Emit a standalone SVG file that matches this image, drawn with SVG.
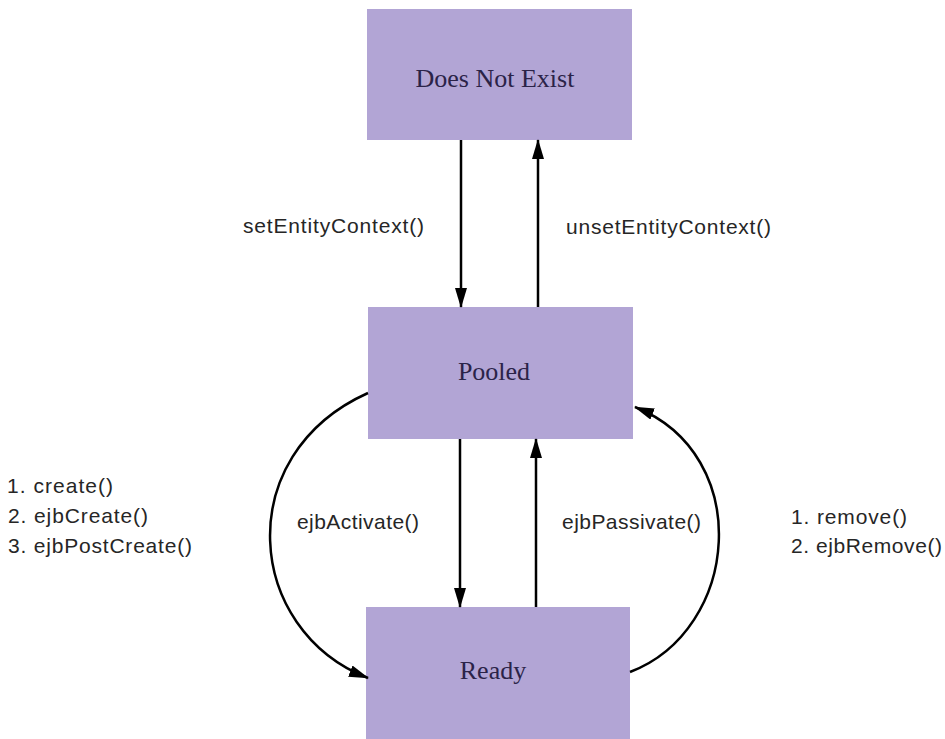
<svg xmlns="http://www.w3.org/2000/svg" width="945" height="739" viewBox="0 0 945 739">
  <defs>
    <marker id="arrow" markerUnits="userSpaceOnUse" markerWidth="20" markerHeight="12" refX="19" refY="6" orient="auto">
      <path d="M0,0 L20,6 L0,12 z" fill="#000"/>
    </marker>
    <style>
      .box { fill: #b2a5d5; }
      .state { font-family: "Liberation Serif", "Times New Roman", serif; font-size: 26px; fill: #2b2348; text-anchor: middle; }
      .lbl { font-family: "Liberation Sans", Arial, sans-serif; font-size: 21px; fill: #262626; }
      .edge { fill: none; stroke: #000; stroke-width: 2.5; marker-end: url(#arrow); }
    </style>
  </defs>
  <rect width="945" height="739" fill="#ffffff"/>

  <g id="node-does-not-exist">
    <rect class="box" x="367" y="9" width="265" height="131"/>
    <text class="state" x="495" y="87">Does Not Exist</text>
  </g>
  <g id="node-pooled">
    <rect class="box" x="368" y="307" width="265" height="132"/>
    <text class="state" x="494" y="380">Pooled</text>
  </g>
  <g id="node-ready">
    <rect class="box" x="366" y="607" width="264" height="140"/>
    <text class="state" x="493" y="679">Ready</text>
  </g>

  <g id="connectors">
    <path class="edge" d="M461,140 L461,307"/>
    <path class="edge" d="M538,307 L538,140"/>
    <path class="edge" d="M460,439 L460,607"/>
    <path class="edge" d="M536,607 L536,439"/>
    <path class="edge" d="M368,393 C230,455 245,630 368,678"/>
    <path class="edge" d="M630,672 C740,630 755,455 635,407"/>
  </g>

  <g id="labels">
    <text class="lbl" x="243" y="233" textLength="181" lengthAdjust="spacing">setEntityContext()</text>
    <text class="lbl" x="566" y="234" textLength="205" lengthAdjust="spacing">unsetEntityContext()</text>
    <text class="lbl" x="297" y="529" textLength="122" lengthAdjust="spacing">ejbActivate()</text>
    <text class="lbl" x="562" y="529" textLength="139" lengthAdjust="spacing">ejbPassivate()</text>
    <text class="lbl" x="7" y="493" textLength="106" lengthAdjust="spacing">1. create()</text>
    <text class="lbl" x="8" y="523" textLength="140" lengthAdjust="spacing">2. ejbCreate()</text>
    <text class="lbl" x="8" y="553" textLength="184" lengthAdjust="spacing">3. ejbPostCreate()</text>
    <text class="lbl" x="791" y="524" textLength="116" lengthAdjust="spacing">1. remove()</text>
    <text class="lbl" x="791" y="553" textLength="151" lengthAdjust="spacing">2. ejbRemove()</text>
  </g>
</svg>
